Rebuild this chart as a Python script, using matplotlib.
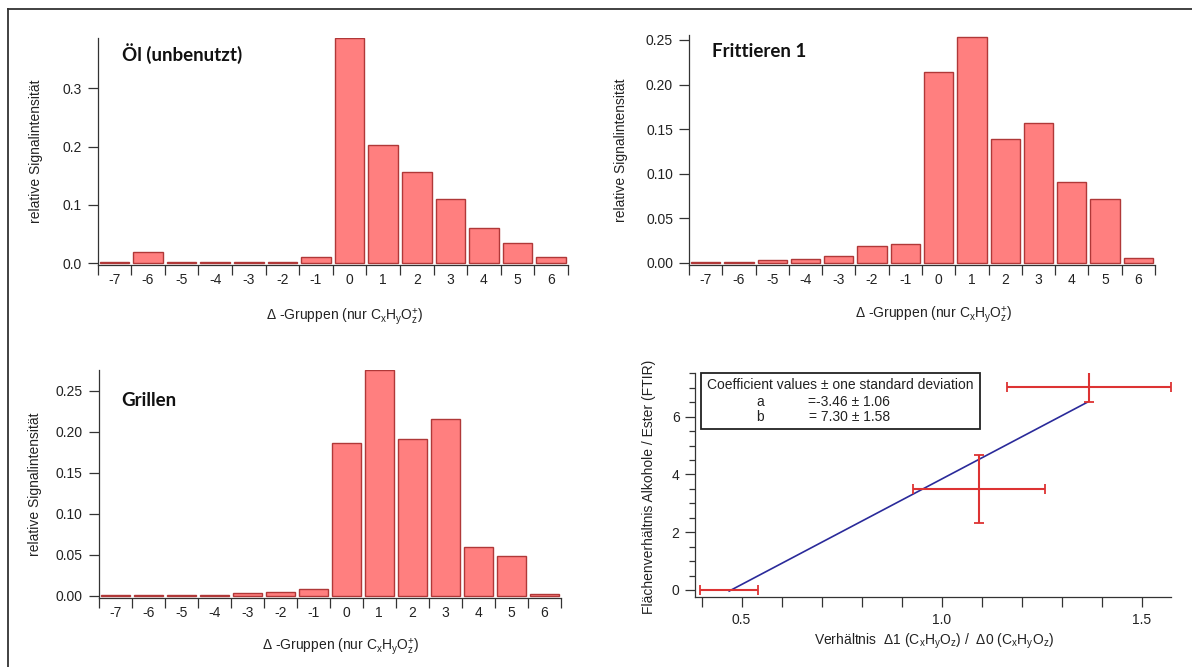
import matplotlib
matplotlib.use("Agg")
import matplotlib.pyplot as plt
import numpy as np
from matplotlib.ticker import MultipleLocator, FixedLocator, FormatStrFormatter
from matplotlib.lines import Line2D
from matplotlib.patches import Rectangle

plt.rcParams['font.family'] = ['Liberation Sans', 'DejaVu Sans']
plt.rcParams['mathtext.fontset'] = 'custom'
plt.rcParams['mathtext.rm'] = 'Liberation Sans'
plt.rcParams['mathtext.it'] = 'Liberation Sans'
plt.rcParams['mathtext.default'] = 'regular'

# ---------------- data ----------------
groups = [-7, -6, -5, -4, -3, -2, -1, 0, 1, 2, 3, 4, 5, 6]
oel_unbenutzt = [0.003, 0.020, 0.003, 0.003, 0.003, 0.003, 0.010, 0.386,
                 0.203, 0.156, 0.110, 0.060, 0.034, 0.011]
frittieren_1 = [0.001, 0.001, 0.003, 0.004, 0.008, 0.019, 0.021, 0.214,
                0.253, 0.139, 0.157, 0.091, 0.071, 0.005]
grillen = [0.001, 0.001, 0.001, 0.001, 0.003, 0.005, 0.008, 0.186,
           0.275, 0.191, 0.215, 0.059, 0.049, 0.002]

ratio_x = [0.469, 1.094, 1.368]
ratio_xerr = [0.072, 0.165, 0.205]
ftir_y = [0.0, 3.51, 7.04]
ftir_yerr = [0.0, 1.18, 0.52]
fit_a, fit_a_err = -3.46, 1.06
fit_b, fit_b_err = 7.30, 1.58

# ---------------- style ----------------
TXT = '#222222'
AX = '#333333'
BAR_FACE = '#ff7f7f'
BAR_EDGE = '#b03838'

W, H = 1192, 667
fig = plt.figure(figsize=(W / 100, H / 100), dpi=100)

def px_axes(left, right, top, bottom):
    return fig.add_axes([left / W, 1 - bottom / H, (right - left) / W, (bottom - top) / H])

xlab_bar = r"Δ -Gruppen (nur C$_{\mathrm{x}}$H$_{\mathrm{y}}$O$_{\mathrm{z}}^{+}$)"

def style_common(ax):
    for s in ['top', 'right']:
        ax.spines[s].set_visible(False)
    for s in ['left', 'bottom']:
        ax.spines[s].set_color(AX)
        ax.spines[s].set_linewidth(0.9)
    ax.set_facecolor('none')

def bar_panel(ax, values, ylim, yticks, fmt, title, title_xy, xl_xy, yl_x):
    style_common(ax)
    ax.bar(groups, values, width=0.88, color=BAR_FACE, edgecolor=BAR_EDGE, linewidth=1.0)
    ax.set_xlim(-7.5, 6.5)
    ax.set_ylim(*ylim)
    ax.xaxis.set_major_locator(FixedLocator(groups))
    ax.set_xticklabels([str(g) for g in groups])
    ax.xaxis.set_minor_locator(FixedLocator(np.arange(-7.5, 7.0, 1.0)))
    ax.tick_params(axis='x', which='major', length=0, pad=6, labelsize=10, labelcolor=TXT)
    ax.tick_params(axis='x', which='minor', length=7, width=0.9, color=AX, direction='out')
    ax.yaxis.set_major_locator(FixedLocator(yticks))
    ax.yaxis.set_major_formatter(FormatStrFormatter(fmt))
    ax.tick_params(axis='y', which='major', length=7, width=0.9, color=AX, pad=4.5,
                   labelsize=10, labelcolor=TXT)
    ax.set_xlabel(xlab_bar, fontsize=10, color=TXT, va='center')
    ax.xaxis.set_label_coords(*xl_xy)
    ax.set_ylabel("relative Signalintensität", fontsize=10, color=TXT, va='center')
    ax.yaxis.set_label_coords(yl_x, 0.5)
    ax.text(title_xy[0], title_xy[1], title, transform=ax.transAxes, ha='left', va='center',
            fontsize=13.5, fontweight='bold', family=['Lato', 'DejaVu Sans'], color='#111111')

# Top-left
ax1 = px_axes(97.6, 568, 38.3, 265)
bar_panel(ax1, oel_unbenutzt, (-0.0029, 0.3857), [0.0, 0.1, 0.2, 0.3], '%.1f',
          "Öl (unbenutzt)", (0.052, 0.934), (0.525, -0.229), -0.132)

# Top-right
ax2 = px_axes(689, 1155, 35, 265)
bar_panel(ax2, frittieren_1, (-0.0026, 0.2556), [0.0, 0.05, 0.10, 0.15, 0.20, 0.25], '%.2f',
          "Frittieren 1", (0.049, 0.927), (0.526, -0.217), -0.145)

# Bottom-left
ax3 = px_axes(98.7, 560.7, 370, 597.7)
bar_panel(ax3, grillen, (-0.0024, 0.2752), [0.0, 0.05, 0.10, 0.15, 0.20, 0.25], '%.2f',
          "Grillen", (0.048, 0.864), (0.524, -0.215), -0.138)

# Bottom-right: ratio vs FTIR
ax4 = px_axes(694.8, 1170.7, 372.7, 596.7)
style_common(ax4)
ax4.set_xlim(0.383, 1.573)
ax4.set_ylim(-0.232, 7.524)
fx = np.array([ratio_x[0], ratio_x[-1]])
ax4.plot(fx, fit_a + fit_b * fx, color='#2a2a9a', lw=1.2, zorder=2)
ax4.errorbar(ratio_x, ftir_y, xerr=ratio_xerr, yerr=ftir_yerr, fmt='none',
             ecolor='#dd3333', elinewidth=1.5, capsize=3.5, capthick=1.3, zorder=3)
ax4.xaxis.set_major_locator(FixedLocator([0.5, 1.0, 1.5]))
ax4.xaxis.set_major_formatter(FormatStrFormatter('%.1f'))
ax4.xaxis.set_minor_locator(MultipleLocator(0.1))
ax4.yaxis.set_major_locator(FixedLocator([0, 2, 4, 6]))
ax4.yaxis.set_minor_locator(MultipleLocator(0.5))
ax4.tick_params(axis='x', which='major', length=7, width=0.9, color=AX, pad=5,
                labelsize=10, labelcolor=TXT)
ax4.tick_params(axis='x', which='minor', length=7, width=0.9, color=AX)
ax4.tick_params(axis='y', which='major', length=7, width=0.9, color=AX, pad=4,
                labelsize=10, labelcolor=TXT)
ax4.tick_params(axis='y', which='minor', length=4.5, width=0.9, color=AX)
ax4.set_xlabel(r"Verhältnis  Δ1 (C$_{\mathrm{x}}$H$_{\mathrm{y}}$O$_{\mathrm{z}}$) /  Δ0 (C$_{\mathrm{x}}$H$_{\mathrm{y}}$O$_{\mathrm{z}}$)",
               fontsize=10, color=TXT, va='center')
ax4.xaxis.set_label_coords(0.503, -0.201)
ax4.set_ylabel("Flächenverhältnis Alkohole / Ester (FTIR)", fontsize=10, color=TXT, va='center')
ax4.yaxis.set_label_coords(-0.096, 0.492)

# coefficient box
ax4.add_patch(Rectangle((0.0137, 0.749), 0.585, 0.248, transform=ax4.transAxes,
                        fill=False, edgecolor='#222222', lw=1.3, clip_on=False, zorder=4))
ax4.text(0.306, 0.945, "Coefficient values ± one standard deviation", transform=ax4.transAxes,
         ha='center', va='center', fontsize=10, color=TXT)
ax4.text(0.137, 0.870, "a", transform=ax4.transAxes, ha='center', va='center', fontsize=10, color=TXT)
ax4.text(0.237, 0.870, f"={fit_a:.2f} ± {fit_a_err:.2f}", transform=ax4.transAxes,
         ha='left', va='center', fontsize=10, color=TXT)
ax4.text(0.137, 0.801, "b", transform=ax4.transAxes, ha='center', va='center', fontsize=10, color=TXT)
ax4.text(0.240, 0.801, f"= {fit_b:.2f} ± {fit_b_err:.2f}", transform=ax4.transAxes,
         ha='left', va='center', fontsize=10, color=TXT)

# outer frame (top and left visible)
fig.add_artist(Line2D([8 / W, 8 / W], [0, 1 - 9 / H], color='#333333', lw=1.3))
fig.add_artist(Line2D([8 / W, 1], [1 - 9 / H, 1 - 9 / H], color='#333333', lw=1.3))

fig.savefig("out.png", dpi=100)
